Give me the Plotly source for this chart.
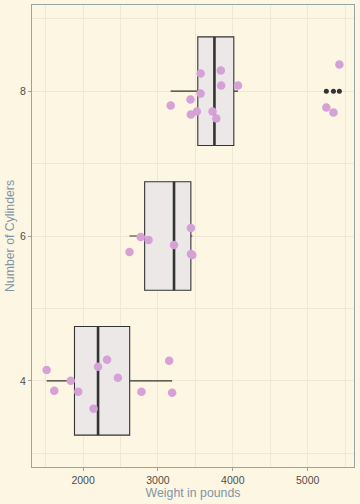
import numpy as np
import plotly.graph_objects as go

# Data (mtcars weight in pounds, grouped by cylinders)
cyl_levels = [4, 6, 8]
wt_cyl4 = [1513, 1615, 1835, 1935, 2140, 2200, 2320, 2465, 2780, 3150, 3190]
jit_cyl4 = [4.148, 3.862, 4.0, 3.848, 3.613, 4.194, 4.29, 4.041, 3.848, 4.276, 3.834]
wt_cyl6 = [2620, 2770, 2875, 3215, 3440, 3440, 3460]
jit_cyl6 = [5.779, 5.986, 5.945, 5.876, 6.11, 5.751, 5.737]
wt_cyl8 = [3170, 3435, 3440, 3520, 3570, 3570, 3730, 3780, 3840, 3845, 4070, 5250, 5345, 5424]
jit_cyl8 = [7.802, 7.885, 7.678, 7.719, 8.245, 7.968, 7.719, 7.622, 8.286, 8.079, 8.079, 7.775, 7.706, 8.369]
x_ticks = [2000, 3000, 4000, 5000]
y_ticks = [4, 6, 8]

groups = [(4, wt_cyl4, jit_cyl4), (6, wt_cyl6, jit_cyl6), (8, wt_cyl8, jit_cyl8)]

BG = "#FDF6E3"
GRID = "#EEE8D5"
BORDER = "#98A3A3"
BOX_W = 1.5

fig = go.Figure()
for cyl, wt, jit in groups:
    arr = np.array(wt, dtype=float)
    q1, med, q3 = np.quantile(arr, [0.25, 0.5, 0.75])  # R type 7 (ggplot default)
    iqr = q3 - q1
    lo_lim, hi_lim = q1 - 1.5 * iqr, q3 + 1.5 * iqr
    inside = arr[(arr >= lo_lim) & (arr <= hi_lim)]
    outl = arr[(arr < lo_lim) | (arr > hi_lim)]
    fig.add_trace(go.Box(
        y=[cyl], q1=[q1], median=[med], q3=[q3],
        lowerfence=[inside.min()], upperfence=[inside.max()],
        orientation="h", width=BOX_W, boxpoints=False,
        fillcolor="#EBE8E7", line=dict(color="#333333", width=1.1),
        whiskerwidth=0, showlegend=False, hoverinfo="skip",
    ))
    fig.add_trace(go.Scatter(
        x=[med, med], y=[cyl - BOX_W / 2, cyl + BOX_W / 2], mode="lines",
        line=dict(color="#333333", width=2.6), showlegend=False, hoverinfo="skip",
    ))
    if len(outl):
        fig.add_trace(go.Scatter(
            x=outl, y=[cyl] * len(outl), mode="markers",
            marker=dict(color="#333333", size=5, line=dict(width=0)),
            showlegend=False, hoverinfo="skip",
        ))

for cyl, wt, jit in groups:
    fig.add_trace(go.Scatter(
        x=wt, y=jit, mode="markers",
        marker=dict(color="#D5A1D6", size=8.5, line=dict(width=0)),
        showlegend=False, hoverinfo="skip",
    ))

font_fam = "Liberation Sans, Arial, sans-serif"
fig.update_layout(
    width=360, height=504,
    margin=dict(l=32, r=6, t=5, b=37),
    paper_bgcolor=BG, plot_bgcolor=BG,
    font=dict(family=font_fam),
    showlegend=False,
    xaxis=dict(
        range=[1317.5, 5619.5], tickvals=x_ticks, ticktext=[str(v) for v in x_ticks],
        showgrid=True, gridcolor=GRID, gridwidth=1, zeroline=False,
        minor=dict(showgrid=True, gridcolor=GRID, gridwidth=1, tick0=1500, dtick=1000),
        showline=True, linecolor=BORDER, linewidth=1.2, mirror=True,
        ticks="outside", ticklen=3, tickcolor=BORDER,
        tickfont=dict(size=10.5, color="#4D4D4D"),
        title=dict(text="Weight in pounds", font=dict(size=12.3, color="#7F95A4"), standoff=3),
        automargin=False,
    ),
    yaxis=dict(
        range=[2.81, 9.19], tickvals=y_ticks, ticktext=[str(v) for v in y_ticks],
        showgrid=True, gridcolor=GRID, gridwidth=1, zeroline=False,
        minor=dict(showgrid=True, gridcolor=GRID, gridwidth=1, tick0=3, dtick=2),
        showline=True, linecolor=BORDER, linewidth=1.2, mirror=True,
        ticks="outside", ticklen=3, tickcolor=BORDER,
        tickfont=dict(size=10.5, color="#4D4D4D"),
        title=dict(text="Number of Cylinders", font=dict(size=12.3, color="#7F95A4"), standoff=2),
        automargin=False,
    ),
)

fig.write_html("out.html",
               config={"displayModeBar": False, "responsive": False},
               post_script="document.body.style.margin='0';document.body.style.background='" + BG + "';")
